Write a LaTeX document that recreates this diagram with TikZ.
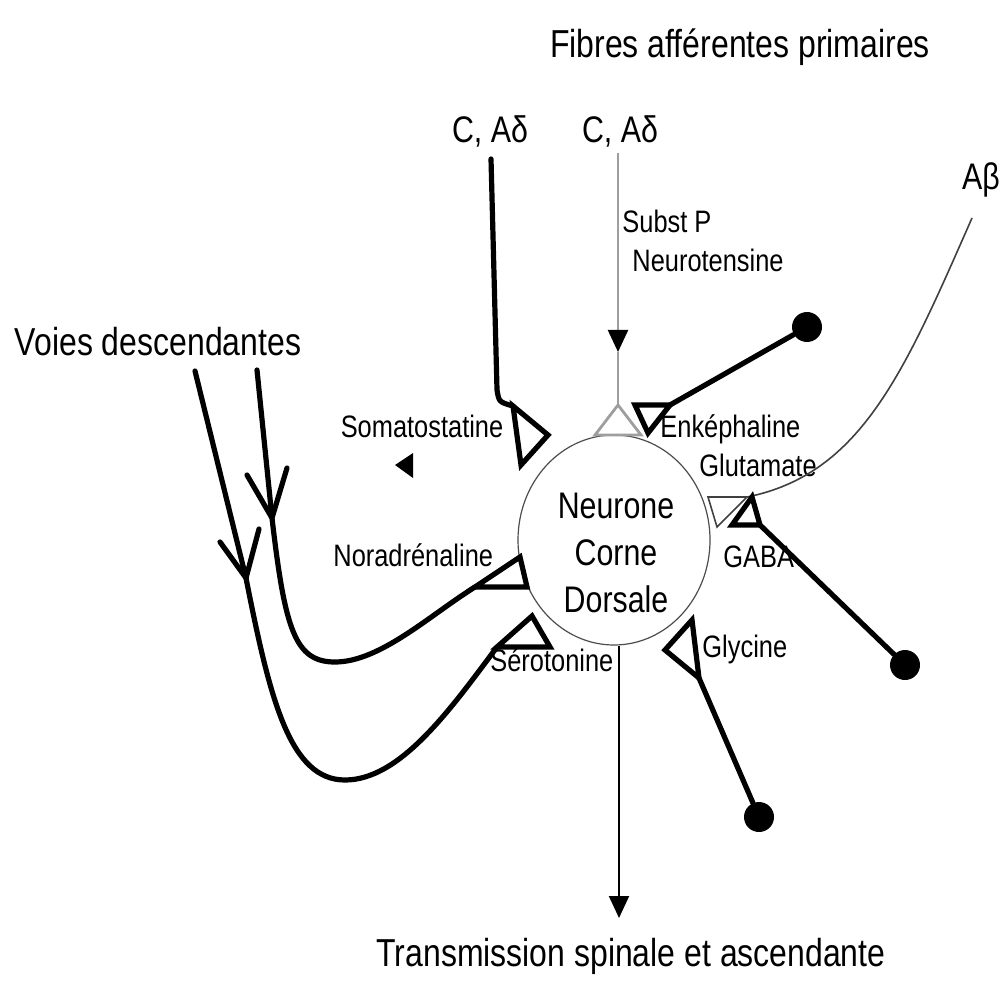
\documentclass[tikz,border=0pt]{standalone}
\usepackage{fontspec}
\setmainfont{Liberation Sans}[FakeStretch=0.82]
\usetikzlibrary{arrows.meta,shapes.geometric}

\tikzset{
  fiber/.style={line width=2.6pt, line cap=round, line join=round},
  synapse/.style={line width=2.6pt, line join=miter},
  grayfiber/.style={line width=1.1pt, draw=black!38},
  thinfiber/.style={line width=0.8pt, draw=black!75},
  outline/.style={line width=1pt, draw=black},
  bouton/.style={circle, fill=black, inner sep=0pt, minimum size=15pt},
  neuron/.style={ellipse, draw=black!70, line width=0.6pt, minimum width=96pt, minimum height=105pt, inner sep=0pt},
  lbl/.style={inner sep=0pt, font=\fontsize{15.5}{18}\selectfont},
  biglbl/.style={inner sep=0pt, font=\fontsize{18.5}{22}\selectfont},
  headlbl/.style={inner sep=0pt, font=\fontsize{19.5}{23}\selectfont},
  headtip/.style={-{Triangle[length=11pt,width=10pt,black]}},
}

\begin{document}
\begin{tikzpicture}[x=0.5pt,y=-0.5pt]
\useasboundingbox (0,0) rectangle (1004,983);

% dorsal horn neuron
\node[neuron] (neuron) at (614,540) {};
\node[biglbl, anchor=base] (n1) at (616,518) {Neurone};
\node[biglbl, anchor=base] (n2) at (616,565) {Corne};
\node[biglbl, anchor=base] (n3) at (616,612) {Dorsale};

% headings
\node[headlbl, anchor=base] (title) at (740,58) {Fibres afférentes primaires};
\node[biglbl, anchor=base] (cad1) at (490,143) {C, Aδ};
\node[biglbl, anchor=base] (cad2) at (620,143) {C, Aδ};
\node[biglbl, anchor=base] (abeta) at (981,190) {Aβ};
\node[headlbl, anchor=base] (voies) at (158,356) {Voies descendantes};
\node[headlbl, anchor=base] (out) at (631,966) {Transmission spinale et ascendante};

% transmitter labels
\node[lbl, anchor=base west] (substp) at (622,233) {Subst P};
\node[lbl, anchor=base west] (neurot) at (632,272) {Neurotensine};
\node[lbl, anchor=base] (somato) at (422,437) {Somatostatine};
\node[lbl, anchor=base west] (enk) at (660,437) {Enképhaline};
\node[lbl, anchor=base west] (glut) at (699,476) {Glutamate};
\node[lbl, anchor=base west] (gaba) at (723,567) {GABA};
\node[lbl, anchor=base west] (glyc) at (702,657) {Glycine};
\node[lbl, anchor=base west] (nora) at (333,566) {Noradrénaline};
\node[lbl, anchor=base west] (sero) at (490,671) {Sérotonine};

% C, Adelta fibre ending with somatostatin synapse
\coordinate (f1a) at (491,159);
\coordinate (f1b) at (497,390);
\coordinate (s1a) at (513,406);
\coordinate (s1b) at (548,435);
\coordinate (s1c) at (521,465);
\draw[fiber] (f1a) -- (f1b) .. controls (499,402) .. (s1a);
\draw[synapse] (s1a) -- (s1b) -- (s1c) -- cycle;

% small released-peptide marker
\coordinate (m1) at (395,465);
\coordinate (m2) at (413,453);
\coordinate (m3) at (413,478);
\fill (m1) -- (m2) -- (m3) -- cycle;

% C, Adelta fibre (substance P / neurotensin)
\coordinate (f2a) at (618,153);
\coordinate (f2m) at (618,352);
\coordinate (s2a) at (618,405);
\coordinate (s2b) at (595,435);
\coordinate (s2c) at (641,435);
\draw[grayfiber, headtip] (f2a) -- (f2m);
\draw[grayfiber] (f2m) -- (s2a);
\draw[grayfiber, line width=1.4pt, line join=miter] (s2a) -- (s2b) -- (s2c) -- cycle;

% enkephalin interneuron
\node[bouton] (d1) at (807,327) {};
\coordinate (e1) at (635,405);
\coordinate (e2) at (670,405);
\coordinate (e3) at (648,433);
\draw[fiber] (d1) -- (e2);
\draw[synapse] (e1) -- (e2) -- (e3) -- cycle;

% A beta fibre (glutamate)
\coordinate (ab1) at (972,218);
\coordinate (g1) at (708,497);
\coordinate (g2) at (747,497);
\coordinate (g3) at (717,527);
\draw[thinfiber] (ab1) .. controls (905,370) and (862,474) .. (g2);
\draw[thinfiber, line join=miter] (g1) -- (g2) -- (g3) -- cycle;

% GABA interneuron
\node[bouton] (d2) at (905,665) {};
\coordinate (ga1) at (752,497);
\coordinate (ga2) at (732,525);
\coordinate (ga3) at (760,525);
\draw[fiber] (d2) -- (ga3);
\draw[synapse] (ga1) -- (ga2) -- (ga3) -- cycle;

% glycine interneuron
\node[bouton] (d3) at (759,817) {};
\coordinate (gl1) at (692,620);
\coordinate (gl2) at (665,650);
\coordinate (gl3) at (699,678);
\draw[fiber] (d3) -- (gl3);
\draw[synapse] (gl1) -- (gl2) -- (gl3) -- cycle;

% descending pathway: serotonin
\coordinate (v1a) at (195,371);
\coordinate (v1b) at (246,578);
\coordinate (v1l) at (220,542);
\coordinate (v1r) at (259,529);
\coordinate (sr1) at (497,647);
\coordinate (sr2) at (532,616);
\coordinate (sr3) at (550,647);
\draw[fiber] (v1a) -- (v1b) .. controls (270,700) and (290,780) .. (345,780)
  .. controls (400,780) and (450,710) .. (sr1);
\draw[fiber] (v1l) -- (v1b) -- (v1r);
\draw[synapse] (sr1) -- (sr2) -- (sr3) -- cycle;

% descending pathway: noradrenaline
\coordinate (v2a) at (257,370);
\coordinate (v2b) at (272,518);
\coordinate (v2l) at (247,475);
\coordinate (v2r) at (287,468);
\coordinate (na1) at (475,587);
\coordinate (na2) at (520,557);
\coordinate (na3) at (527,587);
\draw[fiber] (v2a) -- (v2b) .. controls (285,630) and (295,662) .. (335,662)
  .. controls (380,662) and (430,615) .. (na1);
\draw[fiber] (v2l) -- (v2b) -- (v2r);
\draw[synapse] (na1) -- (na2) -- (na3) -- cycle;

% output towards ascending pathways
\coordinate (outtip) at (619,918);
\draw[outline, headtip] (outtip |- neuron.south) -- (outtip);
\end{tikzpicture}
\end{document}
